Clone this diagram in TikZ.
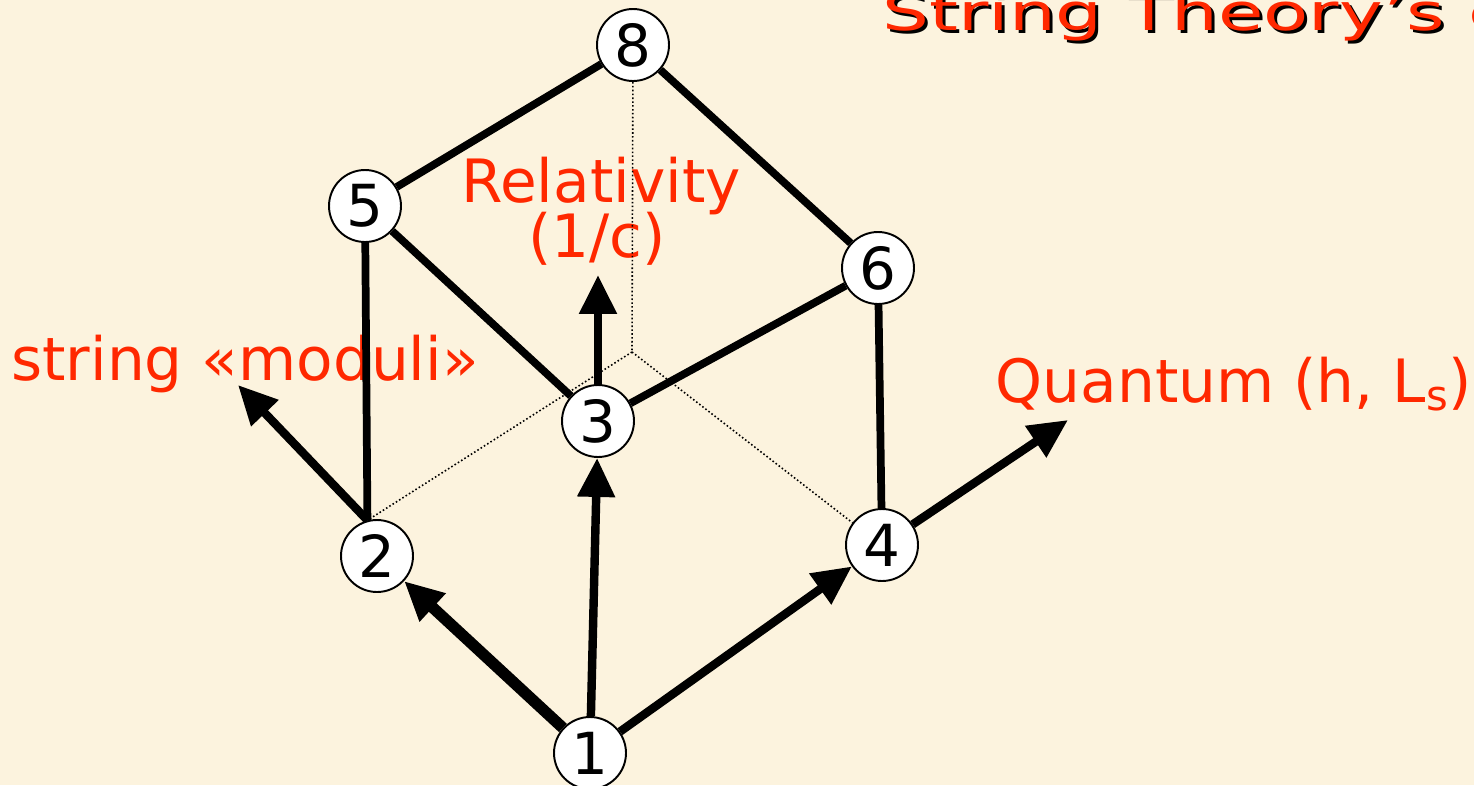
\documentclass[tikz,border=0pt]{standalone}
\usepackage{graphicx}
\usepackage{fontspec}
\setmainfont{DejaVu Sans}
\usetikzlibrary{arrows.meta,backgrounds}
\definecolor{paper}{RGB}{252,243,222}
\definecolor{labred}{RGB}{255,40,0}
\tikzset{
  vtx/.style={circle,draw=black,fill=white,line width=1.1pt,minimum size=1.44cm,
    inner sep=0pt,font=\fontsize{33}{36}\selectfont},          % numbered corner
  edge/.style={line width=4.4pt},                                 % cube edge
  axarr/.style={-{Triangle[length=7.8mm,width=7.2mm]},line width=4.8pt}, % direction arrow
  hid/.style={line width=0.9pt,dash pattern=on 0.9pt off 1.3pt},  % hidden edge
  lbl/.style={text=labred,font=\fontsize{34}{40}\selectfont,inner sep=0pt,anchor=base},
  ttl/.style={font=\fontsize{29}{32}\selectfont,inner sep=0pt,anchor=base west},
}

\begin{document}
\begin{tikzpicture}[x=0.02cm,y=-0.02cm]
  \useasboundingbox (0,0) rectangle (1474,785);
  % corners of the cube
  \node[vtx] (n1) at (590,753) {1};
  \node[vtx] (n2) at (377,556) {2};
  \node[vtx] (n3) at (598,421) {3};
  \node[vtx] (n4) at (882,545) {4};
  \node[vtx] (n5) at (365,206) {5};
  \node[vtx] (n6) at (878,268) {6};
  \node[vtx] (n8) at (633,45) {8};
  \coordinate (n7) at (632,352);
  % free ends of the axes
  \coordinate (mtip) at (238,385);
  \coordinate (rtip) at (598,275);
  \coordinate (qtip) at (1068,420);
  \begin{scope}[on background layer]
    \fill[paper] (0,0) rectangle (1474,785);
    % title, with its shadow
    \node[ttl,text=black] (tshd) at (885,33) {\scalebox{1.45}[1]{String Theory's c}};
    \node[ttl,text=labred] (title) at (882,30) {\scalebox{1.45}[1]{String Theory's c}};
    % axis labels
    \node[lbl] (modl) at (245,380) {string «moduli»};
    \node[lbl] (rel1) at (601,202) {Relativity};
    \node[lbl] (rel2) at (597,257) {(1/c)};
    \node[lbl] (qntm) at (1234,402) {Quantum (h, L\textsubscript{s})};
    % hidden edges
    \draw[hid] (n8) -- (n7);
    \draw[hid] (n7) -- (n2.105);
    \draw[hid] (n7) -- (n4.143);
    % visible edges
    \draw[edge] (n5) -- (n8);
    \draw[edge] (n8) -- (n6);
    \draw[edge] (n5) -- (n3);
    \draw[edge] (n6) -- (n3);
    \draw[edge] (n6) -- (n4);
    \draw[edge] (n5) -- (n2.105);
    % arrows
    \draw[axarr] (n2.105) -- (mtip);
    \draw[axarr] (n3) -- (rtip);
    \draw[axarr] (n4) -- (qtip);
    \draw[axarr] (n1) -- (n3);
    \draw[axarr] (n1) -- (n4);
    \draw[axarr,line width=6.5pt] (n1) -- (n2);
  \end{scope}
\end{tikzpicture}
\end{document}
